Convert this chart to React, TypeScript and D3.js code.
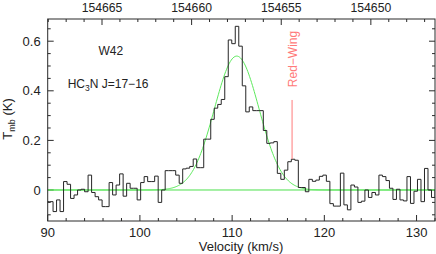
import * as d3 from "d3";

// HC3N J=17-16 spectrum towards W42, channels
const channelStart = 89.82; // km/s, left edge of first channel
const channelWidth = 0.38; // km/s
const tmb = [
  -0.047, -0.047, -0.087, -0.04, -0.087, 0.034, 0.023, -0.034, -0.02, 0.0,
  0.003, -0.007, 0.06, -0.01, -0.027, -0.04, -0.067, -0.067, 0.03, -0.02,
  0.02, 0.065, -0.025, 0.027, 0.007, 0.007, -0.04, 0.03, 0.054, 0.034,
  0.034, 0.056, -0.05, 0.0, 0.078, 0.078, 0.078, 0.06, 0.027, 0.085,
  0.088, 0.095, 0.125, 0.09, 0.09, 0.205, 0.205, 0.285, 0.33, 0.345,
  0.365, 0.457, 0.605, 0.59, 0.66, 0.58, 0.42, 0.315, 0.335, 0.32,
  0.32, 0.32, 0.24, 0.188, 0.19, 0.195, 0.067, 0.043, 0.08, 0.114,
  0.124, 0.12, 0.01, 0.01, -0.007, 0.043, 0.035, 0.04, 0.055, 0.06,
  0.035, -0.055, -0.065, -0.065, 0.068, -0.06, -0.08, 0.02, 0.012, -0.05,
  -0.045, 0.0, -0.03, -0.01, -0.02, 0.06, 0.054, 0.038, 0.007, -0.038,
  0.003, -0.04, -0.044, 0.054, -0.054, -0.005, 0.043, -0.047, 0.087, 0.0,
  -0.03, 0.0,
];

// gaussian fit (green)
const fitAmp = 0.54;
const fitCenter = 110.5;
const fitFwhm = 5.7;

const velocityTicks = [90, 100, 110, 120, 130];
const tmbTicks = [0, 0.2, 0.4, 0.6];
const freqTicks = [154665, 154660, 154655, 154650];
const freqAt90 = 154668.03; // MHz at v = 90 km/s
const mhzPerKms = 0.5145;

const redWingVelocity = 116.5;
const redWingRange = [0.125, 0.363];

const W = 436;
const H = 254;
const left = 47.7;
const right = 435;
const top = 19;
const bottom = 221;

const FONT = "'Liberation Sans', Arial, sans-serif";
const AXIS = "#2a2a2a";

export default function App() {
  const x = d3.scaleLinear().domain([90, 132]).range([left, right]);
  const y = d3.scaleLinear().domain([-0.125, 0.6895]).range([bottom, top]);
  const freq = d3
    .scaleLinear()
    .domain([freqAt90, freqAt90 - 42 * mhzPerKms])
    .range([left, right]);

  const pts: [number, number][] = tmb.map((t, i) => [channelStart + i * channelWidth, t]);
  pts.push([channelStart + tmb.length * channelWidth, tmb[tmb.length - 1]]);
  const stepLine = d3
    .line<[number, number]>()
    .x((d) => x(d[0]))
    .y((d) => y(d[1]))
    .curve(d3.curveStepAfter);

  const sigma = fitFwhm / (2 * Math.sqrt(2 * Math.log(2)));
  const fitVel = d3.range(90, 132.01, 0.1);
  const fitLine = d3
    .line<number>()
    .x((v) => x(v))
    .y((v) => y(fitAmp * Math.exp(-0.5 * ((v - fitCenter) / sigma) ** 2)));

  const vMinor = d3.range(90, 133, 2);
  const yMinor = d3.range(-0.1, 0.66, 0.05).map((v) => Math.round(v * 100) / 100);
  const fMinor = d3.range(154647, 154669, 1);

  const major = 6;
  const minor = 3;

  return (
    <svg
      width={W}
      height={H}
      style={{ position: "absolute", left: 0, top: 0, background: "#fff" }}
      fontFamily={FONT}
    >
      <defs>
        <clipPath id="plot">
          <rect x={left} y={top} width={right - left} height={bottom - top} />
        </clipPath>
      </defs>

      {/* ticks */}
      <g stroke={AXIS} strokeWidth={1}>
        {vMinor.map((v) => {
          const len = v % 10 === 0 ? major : minor;
          return <line key={"b" + v} x1={x(v)} x2={x(v)} y1={bottom} y2={bottom - len} />;
        })}
        {fMinor.map((f) => {
          const len = f % 5 === 0 ? major : minor;
          return <line key={"t" + f} x1={freq(f)} x2={freq(f)} y1={top} y2={top + len} />;
        })}
        {yMinor.map((v) => {
          const len = Math.abs((v * 10) % 2) < 1e-6 ? major : minor;
          return (
            <g key={"y" + v}>
              <line x1={left} x2={left + len} y1={y(v)} y2={y(v)} />
              <line x1={right} x2={right - len} y1={y(v)} y2={y(v)} />
            </g>
          );
        })}
      </g>

      <g clipPath="url(#plot)">
        <line x1={left} x2={right} y1={y(0)} y2={y(0)} stroke="#4be04b" strokeWidth={1} />
        <path d={fitLine(fitVel) ?? ""} fill="none" stroke="#5de85d" strokeWidth={1} />
        <path d={stepLine(pts) ?? ""} fill="none" stroke="#262626" strokeWidth={1} />
      </g>

      <rect x={left} y={top} width={right - left} height={bottom - top} fill="none" stroke={AXIS} strokeWidth={1} />

      {/* tick labels */}
      <g fontSize={13} fill="#222">
        {velocityTicks.map((v) => (
          <text key={v} x={x(v)} y={237} textAnchor="middle">{v}</text>
        ))}
        {freqTicks.map((f) => (
          <text key={f} x={freq(f)} y={11.5} fontSize={12.2} textAnchor="middle">{f}</text>
        ))}
        {tmbTicks.map((t) => (
          <text key={t} x={left - 7} y={y(t) + 4.6} textAnchor="end">{t === 0 ? "0" : t.toFixed(1)}</text>
        ))}
        <text x={241} y={251} textAnchor="middle">Velocity (km/s)</text>
        <text transform={`translate(12,${119}) rotate(-90)`} textAnchor="middle">
          T<tspan fontSize={9} dy={3}>mb</tspan><tspan dy={-3}> (K)</tspan>
        </text>
      </g>

      {/* annotations */}
      <g fontSize={12} fill="#222">
        <text x={98.5} y={55}>W42</text>
        <text x={67.7} y={88}>
          HC<tspan fontSize={8.5} dy={3}>3</tspan><tspan dy={-3}>N  J=17−16</tspan>
        </text>
      </g>

      <line
        x1={x(redWingVelocity)}
        x2={x(redWingVelocity)}
        y1={y(redWingRange[0])}
        y2={y(redWingRange[1])}
        stroke="#ff7a7a"
        strokeWidth={1}
      />
      <text
        transform={`translate(${x(redWingVelocity) + 4.5},59) rotate(-90)`}
        textAnchor="middle"
        fontSize={12}
        fill="#ff7a7a"
      >
        Red−Wing
      </text>
    </svg>
  );
}
